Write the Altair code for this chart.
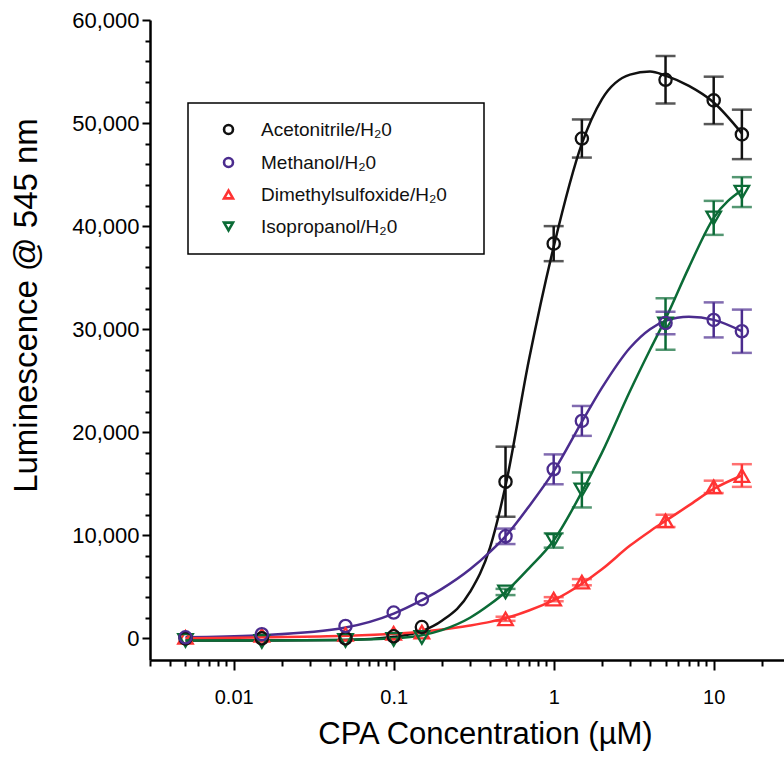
import altair as alt
import pandas as pd

# ---------------- data ----------------
x_conc = [0.005, 0.015, 0.05, 0.1, 0.15, 0.5, 1, 1.5, 5, 10, 15]

series_names = ["Acetonitrile/H₂0", "Methanol/H₂0", "Dimethylsulfoxide/H₂0", "Isopropanol/H₂0"]
series_colors = ["#111111", "#4b2c8e", "#ff3333", "#0b6b36"]
series_shapes = ["circle", "circle", "triangle-up", "triangle-down"]

acn_mean = [0, 0, 0, 200, 1100, 15200, 38300, 48500, 54200, 52200, 48900]
acn_err = [0, 0, 0, 0, 0, 3400, 1700, 1850, 2300, 2300, 2400]
meoh_mean = [100, 400, 1200, 2500, 3800, 9900, 16400, 21100, 30600, 30900, 29800]
meoh_err = [0, 0, 0, 0, 0, 750, 1450, 1450, 1100, 1700, 2100]
dmso_mean = [100, 300, 400, 500, 600, 1900, 3800, 5450, 11400, 14700, 15800]
dmso_err = [0, 0, 0, 0, 0, 200, 200, 300, 600, 600, 1100]
ipa_mean = [-200, -300, -200, -100, 100, 4500, 9500, 14400, 30500, 40800, 43300]
ipa_err = [0, 0, 0, 0, 0, 300, 700, 1700, 2500, 1650, 1450]

# fitted curves
fit_x = [0.005, 0.015, 0.05, 0.1, 0.15, 0.2, 0.3, 0.4, 0.5, 0.7, 1, 1.5, 2, 3, 4, 5, 7, 10, 15]
acn_fit = [-200, -200, -150, 150, 700, 1700, 4500, 8800, 14800, 27000, 38000, 48000, 52300, 54700, 55000, 54600, 53600, 52000, 49000]
meoh_fit = [100, 300, 1050, 2400, 3700, 4800, 6700, 8400, 9900, 12800, 16200, 21000, 24300, 28200, 30000, 30800, 31200, 30900, 29800]
dmso_fit = [0, 100, 250, 450, 650, 850, 1250, 1600, 1950, 2700, 3700, 5300, 6700, 9000, 10400, 11400, 12900, 14500, 15800]
ipa_fit = [-200, -200, -150, 0, 300, 800, 2000, 3300, 4500, 6800, 9500, 14200, 18000, 24000, 28000, 31000, 36000, 40800, 43500]

# axis tick values
x_major = [0.01, 0.1, 1, 10]
x_minor = [0.003, 0.004, 0.005, 0.006, 0.007, 0.008, 0.009,
           0.02, 0.03, 0.04, 0.05, 0.06, 0.07, 0.08, 0.09,
           0.2, 0.3, 0.4, 0.5, 0.6, 0.7, 0.8, 0.9,
           2, 3, 4, 5, 6, 7, 8, 9, 20]
y_major = [0, 10000, 20000, 30000, 40000, 50000, 60000]
y_minor = [2000, 4000, 6000, 8000, 12000, 14000, 16000, 18000,
           22000, 24000, 26000, 28000, 32000, 34000, 36000, 38000,
           42000, 44000, 46000, 48000, 52000, 54000, 56000, 58000]

# ---------------- tables ----------------
means = [acn_mean, meoh_mean, dmso_mean, ipa_mean]
errs = [acn_err, meoh_err, dmso_err, ipa_err]
fits = [acn_fit, meoh_fit, dmso_fit, ipa_fit]

pts_rows, bar_rows, cap_rows, fit_rows = [], [], [], []
for name, shp, m, e, f in zip(series_names, series_shapes, means, errs, fits):
    for xv, mv, ev in zip(x_conc, m, e):
        pts_rows.append({"series": name, "kind": shp, "conc": xv, "lum": mv})
        if ev > 0:
            bar_rows.append({"series": name, "conc": xv, "lo": mv - ev, "hi": mv + ev})
            cap_rows.append({"series": name, "conc": xv, "cap": mv - ev})
            cap_rows.append({"series": name, "conc": xv, "cap": mv + ev})
    for xv, fv in zip(fit_x, f):
        fit_rows.append({"series": name, "conc": xv, "lum": fv})

pts_df = pd.DataFrame(pts_rows)
circ_df = pts_df[pts_df["kind"] == "circle"]
tri_df = pts_df[pts_df["kind"] != "circle"]
bar_df = pd.DataFrame(bar_rows)
cap_df = pd.DataFrame(cap_rows)
fit_df = pd.DataFrame(fit_rows)

FONT = "Liberation Sans"
x_scale = alt.Scale(type="log", domain=[0.003, 27.5], nice=False)
y_scale = alt.Scale(domain=[-2100, 60000], nice=False, zero=False)
color_scale = alt.Scale(domain=series_names, range=series_colors)
shape_scale = alt.Scale(domain=series_names, range=series_shapes)

x_minor_axis = alt.Axis(values=x_minor, labels=False, tickSize=6, tickWidth=2, domain=False,
                        grid=False, title=None, orient="bottom", tickColor="black")
y_minor_axis = alt.Axis(values=y_minor, labels=False, tickSize=5, tickWidth=2, domain=False,
                        grid=False, title=None, orient="left", tickColor="black")

x_major_axis = alt.Axis(values=x_major, format="~g", tickSize=10, tickWidth=2, labelPadding=17,
                        labelFontSize=20, labelFont=FONT, labelColor="black",
                        title="CPA Concentration (µM)", titleFontSize=31, titleFont=FONT,
                        titleFontWeight="normal", titleColor="black", titlePadding=12,
                        titleX=335,
                        domainWidth=2.5, domainColor="black", tickColor="black",
                        grid=False, orient="bottom")
y_major_axis = alt.Axis(values=y_major, format=",d", tickSize=8, tickWidth=2, labelPadding=3,
                        labelFontSize=22, labelFont=FONT, labelColor="black",
                        title="Luminescence @ 545 nm", titleFontSize=33, titleFont=FONT,
                        titleFontWeight="normal", titleColor="black", titlePadding=28,
                        titleY=285,
                        domainWidth=2.5, domainColor="black", tickColor="black",
                        grid=False, orient="left")

legend = alt.Legend(title="\u00a0", titleOrient="right", titleFontSize=1, titlePadding=20,
                    orient="none", legendX=38, legendY=83, padding=17,
                    rowPadding=12, symbolOffset=14, labelOffset=23, labelFontSize=19,
                    labelLimit=400,
                    labelFont=FONT, labelColor="#111111", symbolSize=80, symbolStrokeWidth=2.6,
                    strokeColor="black", fillColor="white")

lines = alt.Chart(fit_df).mark_line(strokeWidth=2.5, interpolate="monotone").encode(
    x=alt.X("conc:Q", scale=x_scale, axis=x_minor_axis),
    y=alt.Y("lum:Q", scale=y_scale, axis=y_minor_axis),
    color=alt.Color("series:N", scale=color_scale, legend=None),
    detail="series:N",
)

bars = alt.Chart(bar_df).mark_rule(strokeWidth=2.5).encode(
    x=alt.X("conc:Q", scale=x_scale, axis=None),
    y=alt.Y("lo:Q", scale=y_scale, axis=None),
    y2="hi:Q",
    color=alt.Color("series:N", scale=color_scale, legend=None),
)

caps = alt.Chart(cap_df).mark_tick(orient="horizontal", size=20, thickness=2.5).encode(
    x=alt.X("conc:Q", scale=x_scale, axis=None),
    y=alt.Y("cap:Q", scale=y_scale, axis=None),
    color=alt.Color("series:N", scale=color_scale, legend=None),
)

circles = alt.Chart(circ_df).mark_point(filled=False, strokeWidth=2.3, size=150, opacity=1).encode(
    x=alt.X("conc:Q", scale=x_scale, axis=x_major_axis),
    y=alt.Y("lum:Q", scale=y_scale, axis=y_major_axis),
    color=alt.Color("series:N", scale=color_scale, legend=legend),
    shape=alt.Shape("series:N", scale=shape_scale, legend=legend),
)

triangles = alt.Chart(tri_df).mark_point(filled=False, strokeWidth=2.3, size=210, opacity=1).encode(
    x=alt.X("conc:Q", scale=x_scale, axis=None),
    y=alt.Y("lum:Q", scale=y_scale, axis=None),
    color=alt.Color("series:N", scale=color_scale, legend=None),
    shape=alt.Shape("series:N", scale=shape_scale, legend=None),
)

chart = alt.layer(lines, bars, caps, triangles, circles).resolve_axis(
    x="independent", y="independent"
).resolve_legend(
    color="independent", shape="independent"
).properties(
    width=634, height=640,
    autosize=alt.AutoSizeParams(type="none"),
    padding={"left": 150, "top": 20, "right": 0, "bottom": 98},
    background="white",
).configure_view(stroke=None).configure_legend(strokeWidth=1.5)

chart.save("out.html", embed_options={"renderer": "svg", "actions": False})
